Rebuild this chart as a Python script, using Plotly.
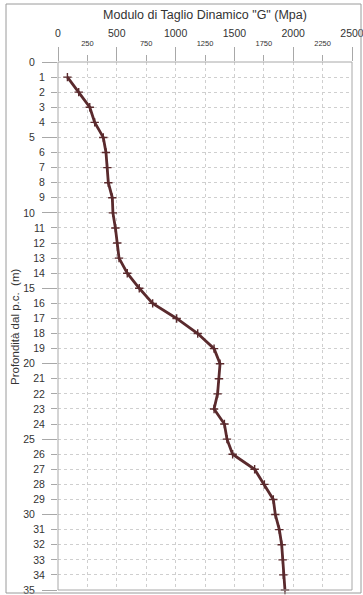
import plotly.graph_objects as go

# Depth (m below ground level) and dynamic shear modulus G (MPa)
depth = list(range(1, 36))
g_mpa = [80, 176, 270, 312, 385, 408, 420, 428, 462, 467,
         488, 504, 519, 589, 691, 805, 1009, 1188, 1327, 1378,
         1369, 1357, 1327, 1415, 1437, 1485, 1672, 1755, 1831, 1848,
         1882, 1902, 1910, 1916, 1930]

x_major = [0, 500, 1000, 1500, 2000, 2500]
x_minor = [250, 750, 1250, 1750, 2250]
y_major = [0, 5, 10, 15, 20, 25, 30, 35]
y_minor = [d for d in range(0, 36) if d % 5 != 0]

W, H = 363, 595
ML, MR, MT, MB = 58, 11, 62, 5
PW, PH = W - ML - MR, H - MT - MB

FONT = "Liberation Sans, Arial, sans-serif"
LINE_COL = "#5a2a2d"
AX_COL = "#a8a8a8"
GRID_COL = "#cfcfcf"


def px_to_paper_x(px):
    return (px - ML) / PW


def px_to_paper_y(py):
    return (H - MB - py) / PH


fig = go.Figure()
fig.add_trace(go.Scatter(
    x=g_mpa, y=depth, mode="lines+markers",
    line=dict(color=LINE_COL, width=2.8),
    marker=dict(symbol="cross-thin", size=6, line=dict(color=LINE_COL, width=1.4)),
    showlegend=False, cliponaxis=False,
))
# invisible helper traces so the secondary tick axes are drawn
fig.add_trace(go.Scatter(x=[0], y=[0], xaxis="x2", yaxis="y", mode="markers",
                         marker=dict(opacity=0), showlegend=False, hoverinfo="skip"))
fig.add_trace(go.Scatter(x=[0], y=[0], xaxis="x", yaxis="y2", mode="markers",
                         marker=dict(opacity=0), showlegend=False, hoverinfo="skip"))

common_x = dict(range=[0, 2500], side="top", showline=False, zeroline=False,
                showgrid=True, gridcolor=GRID_COL, griddash="dot", gridwidth=1,
                ticks="outside", tickcolor=AX_COL, tickwidth=1, tickmode="array",
                ticklabeloverflow="allow", automargin=False)
common_y = dict(range=[35, 0], side="left", showline=False, zeroline=False,
                showgrid=True, gridcolor=GRID_COL, griddash="dot", gridwidth=1,
                ticks="outside", tickcolor=AX_COL, tickwidth=1, tickmode="array",
                ticklabeloverflow="allow", automargin=False)

fig.update_layout(
    width=W, height=H,
    margin=dict(l=ML, r=MR, t=MT, b=MB, autoexpand=False),
    paper_bgcolor="white", plot_bgcolor="white",
    font=dict(family=FONT, color="#333333"),
    xaxis=dict(**common_x, tickvals=x_major, ticktext=[str(v) for v in x_major],
               ticklen=14, ticklabelstandoff=6,
               tickfont=dict(size=10.5, color="#333333")),
    xaxis2=dict(**common_x, overlaying="x", anchor="y", tickvals=x_minor,
                ticktext=[str(v) for v in x_minor],
                ticklen=6, ticklabelstandoff=6,
                tickfont=dict(size=7.5, color="#333333")),
    yaxis=dict(**common_y, tickvals=y_major, ticktext=[str(v) for v in y_major],
               ticklen=15, ticklabelstandoff=5,
               tickfont=dict(size=10.5, color="#333333")),
    yaxis2=dict(**common_y, overlaying="y", anchor="x", tickvals=y_minor,
                ticktext=[str(v) for v in y_minor],
                ticklen=6, ticklabelstandoff=4,
                tickfont=dict(size=10.5, color="#333333")),
    title=dict(text='Modulo di Taglio Dinamico "G" (Mpa)', x=0.5, xref="paper",
               y=1 - 15 / H, yref="container", yanchor="middle", xanchor="center",
               font=dict(size=12.5, color="#333333", family=FONT)),
)

# plot-area border: solid gray on all four sides
fig.add_shape(type="rect", xref="paper", yref="paper", x0=0, x1=1, y0=0, y1=1,
              line=dict(color=AX_COL, width=1), layer="above")
# outer chart frame
fig.add_shape(type="rect", xref="paper", yref="paper",
              x0=px_to_paper_x(6), x1=px_to_paper_x(361),
              y0=px_to_paper_y(593), y1=px_to_paper_y(4),
              line=dict(color="#9a9a9a", width=1))

fig.add_annotation(text="Profondità dal p.c.  (m)", textangle=-90,
                   xref="paper", yref="paper",
                   x=px_to_paper_x(15), y=px_to_paper_y(327),
                   xanchor="center", yanchor="middle", showarrow=False,
                   font=dict(size=11.5, color="#333333", family=FONT))

fig.write_html("out.html")
